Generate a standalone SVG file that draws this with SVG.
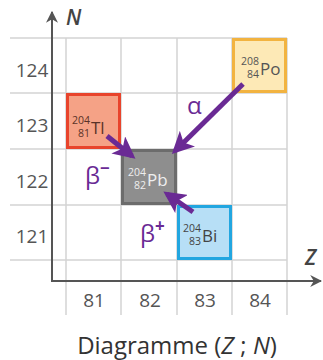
<svg xmlns="http://www.w3.org/2000/svg" width="323" height="360" viewBox="0 0 323 360">
<style>
.grid{stroke:#d4d4d4;stroke-width:1.5;fill:none}
.axis{stroke:#555;stroke-width:2;fill:none}
.lbl{font-family:"Open Sans","Liberation Sans",sans-serif;font-size:19px;fill:#555;text-anchor:middle}
.ax{font-family:"Open Sans","Liberation Sans",sans-serif;font-size:21px;font-style:italic;font-weight:600;fill:#444}
.el{font-family:"Open Sans","Liberation Sans",sans-serif;font-size:17px}
.sm{font-family:"Open Sans","Liberation Sans",sans-serif;font-size:10.5px;text-anchor:end}
.arr{stroke:#6a2a94;stroke-width:5;fill:none;marker-end:url(#ah)}
.dl{font-family:"Open Sans","Liberation Sans",sans-serif;font-size:24px;fill:#6a2a94}
.sup{font-size:17px;font-weight:700}
</style>
<defs>
<marker id="ah" viewBox="0 0 10 10" refX="8" refY="5" markerWidth="4.4" markerHeight="4.4" orient="auto" markerUnits="strokeWidth">
<path d="M0,0 L10,5 L0,10 L2.5,5 Z" fill="#6a2a94"/>
</marker>
<marker id="axh" viewBox="0 0 10 10" refX="9" refY="5" markerWidth="6" markerHeight="6" orient="auto" markerUnits="strokeWidth">
<path d="M0,0 L10,5 L0,10 L3,5 Z" fill="#555"/>
</marker>
</defs>
<g id="grid">
<path class="grid" d="M10,38H287M10,93H287M10,149H287M10,205H287M10,260H287M66,38V315M121,38V315M177,38V315M232,38V315M287,38V315"/>
</g>
<g id="axes">
<path class="axis" d="M52,281V12" marker-end="url(#axh)"/>
<path class="axis" d="M51,281H321" marker-end="url(#axh)"/>
<text class="ax" x="66" y="25">N</text>
<text class="ax" x="305" y="265">Z</text>
</g>
<g id="labels">
<text class="lbl" x="32" y="77">124</text>
<text class="lbl" x="32" y="132">123</text>
<text class="lbl" x="32" y="188">122</text>
<text class="lbl" x="32" y="243">121</text>
<text class="lbl" x="94" y="307">81</text>
<text class="lbl" x="150" y="307">82</text>
<text class="lbl" x="205" y="307">83</text>
<text class="lbl" x="260" y="307">84</text>
</g>
<g id="Tl">
<rect x="67.5" y="94.5" width="52" height="53" fill="#f5a286" stroke="#e8442c" stroke-width="3"/>
<text class="sm" x="90" y="124" fill="#5a3328">204</text>
<text class="sm" x="90" y="137" fill="#5a3328">81</text>
<text class="el" x="91" y="134" fill="#5a3328">Tl</text>
</g>
<g id="Pb">
<rect x="122.5" y="150.5" width="53" height="53" fill="#8e8e8e" stroke="#6c6c6c" stroke-width="3"/>
<text class="sm" x="146" y="176" fill="#eee">204</text>
<text class="sm" x="146" y="189" fill="#eee">82</text>
<text class="el" x="147" y="186" fill="#eee">Pb</text>
</g>
<g id="Po">
<rect x="233.5" y="39.5" width="52" height="52" fill="#fde9b6" stroke="#f2b340" stroke-width="3"/>
<text class="sm" x="259" y="65" fill="#555">208</text>
<text class="sm" x="259" y="78" fill="#555">84</text>
<text class="el" x="260" y="75" fill="#555">Po</text>
</g>
<g id="Bi">
<rect x="178.5" y="206.5" width="52" height="52" fill="#b7dff6" stroke="#22a6e0" stroke-width="3"/>
<text class="sm" x="201" y="232" fill="#444">204</text>
<text class="sm" x="201" y="245" fill="#444">83</text>
<text class="el" x="202" y="242" fill="#444">Bi</text>
</g>
<g id="connectors">
<path class="arr" d="M243,84L175,151"/>
<path class="arr" d="M107,136L132,156"/>
<path class="arr" d="M193,212L167,194"/>
</g>
<g id="decay-labels">
<text class="dl" x="187" y="114">α</text>
<text class="dl" x="85" y="184">β<tspan class="sup" dy="-10">−</tspan></text>
<text class="dl" x="140" y="242">β<tspan class="sup" dy="-10">+</tspan></text>
</g>
<text x="177" y="354" font-family="'Open Sans','Liberation Sans',sans-serif" font-size="24" fill="#333" text-anchor="middle">Diagramme (<tspan font-style="italic">Z</tspan> ; <tspan font-style="italic">N</tspan>)</text>
</svg>
